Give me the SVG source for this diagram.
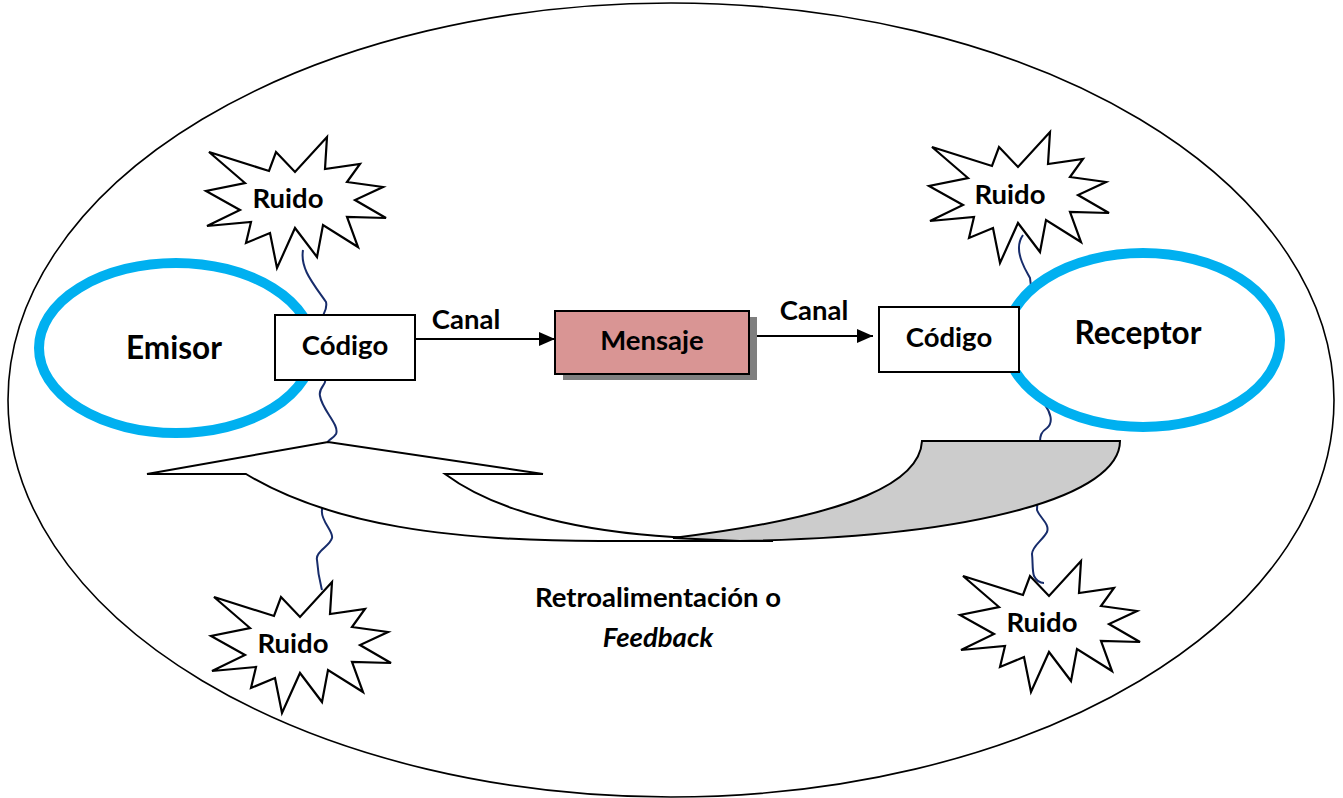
<svg xmlns="http://www.w3.org/2000/svg" width="1343" height="798" viewBox="0 0 1343 798">
<style>
text{font-family:Lato,"Liberation Sans",sans-serif;font-weight:bold;fill:#000;text-anchor:middle}
.t29{font-size:27.5px}
.t34{font-size:31.5px}
.ring{fill:#fff;stroke:#00b0f0;stroke-width:10}
.box{fill:#fff;stroke:#000;stroke-width:2}
.star{fill:#fff;stroke:#000;stroke-width:2.2;stroke-linejoin:miter}
.wave{fill:none;stroke:#172c6b;stroke-width:2}
.conn{stroke:#000;stroke-width:2;fill:none}
</style>
<defs>
<marker id="ah" markerWidth="16" markerHeight="14" refX="16" refY="7" orient="auto" markerUnits="userSpaceOnUse">
<path d="M0,0 L16,7 L0,14 Z" fill="#000"/>
</marker>
<polygon id="starShape" class="star" points="209,152 269,171 276,152 295,172 327,137 325,169 360,164 347,182 383,187 355,200 386,218 347,217 358,247 323,225 317,257 295,228 277,268 270,233 246,243 251,222 207,226 240,210 206,191 245,183"/>
</defs>
<rect width="1343" height="798" fill="#fff"/>
<ellipse id="boundary" cx="671" cy="400" rx="663" ry="397" fill="#fff" stroke="#000" stroke-width="1.6"/>
<g id="waves">
<path class="wave" d="M303,250 C300,268 312,282 326,302 C328,310 322,314 322,320 L325,380 C327,384 318,388 320,396 C322,410 340,425 336,434 C333,439 328,440 328,442 L322,510 C320,520 334,532 332,538 C330,546 315,552 317,560 C318,575 320,582 322,590"/>
<path class="wave" d="M1023,235 C1018,242 1018,252 1022,262 C1025,270 1028,274 1030,278 L1045,405 C1050,412 1054,422 1047,428 C1041,432 1040,436 1040,442 L1037,510 C1040,518 1050,524 1047,532 C1043,540 1032,546 1032,554 C1033,562 1032,570 1034,576 C1036,580 1040,583 1044,583"/>
</g>
<g id="emisor"><ellipse class="ring" cx="176" cy="348" rx="137" ry="85"/><text class="t34" x="174" y="359">Emisor</text></g>
<g id="receptor"><ellipse class="ring" cx="1143" cy="340" rx="137" ry="87"/><text class="t34" x="1138" y="344">Receptor</text></g>
<g id="feedback">
<path d="M147,474 L328,442 L543,474 L445,474 C500,515 590,532 673,537 L773,541 L600,541 C450,541 330,525 246,474 Z" fill="#fff" stroke="#000" stroke-width="2" stroke-linejoin="miter"/>
<path d="M922,441 L1120,441 C1120,495 980,537 740,541 L673,538 C860,515 920,480 922,441 Z" fill="#cccccc" stroke="#000" stroke-width="2"/>
</g>
<g id="connectors">
<line class="conn" x1="415" y1="339" x2="555" y2="339" marker-end="url(#ah)"/>
<line class="conn" x1="749" y1="336" x2="873" y2="336" marker-end="url(#ah)"/>
<text class="t29" x="466" y="329">Canal</text>
<text class="t29" x="814" y="320">Canal</text>
</g>
<g id="codigo1"><rect class="box" x="275" y="315" width="140" height="65"/><text class="t29" x="345" y="355">Código</text></g>
<g id="mensaje"><rect x="563" y="317" width="194" height="63" fill="#7f7f7f"/><rect x="555" y="311" width="194" height="63" fill="#d99594" stroke="#000" stroke-width="2"/><text class="t29" x="652" y="350">Mensaje</text></g>
<g id="codigo2"><rect class="box" x="879" y="307" width="140" height="65"/><text class="t29" x="949" y="347">Código</text></g>
<g id="ruido1"><use href="#starShape"/><text class="t29" x="288" y="208">Ruido</text></g>
<g id="ruido2"><use href="#starShape" transform="translate(723,-5)"/><text class="t29" x="1010" y="204">Ruido</text></g>
<g id="ruido3"><use href="#starShape" transform="translate(5,445)"/><text class="t29" x="293" y="653">Ruido</text></g>
<g id="ruido4"><use href="#starShape" transform="translate(754,424)"/><text class="t29" x="1042" y="632">Ruido</text></g>
<g id="label"><text class="t29" x="658" y="607">Retroalimentación o</text><text class="t29" x="658" y="647" font-style="italic">Feedback</text></g>
</svg>
